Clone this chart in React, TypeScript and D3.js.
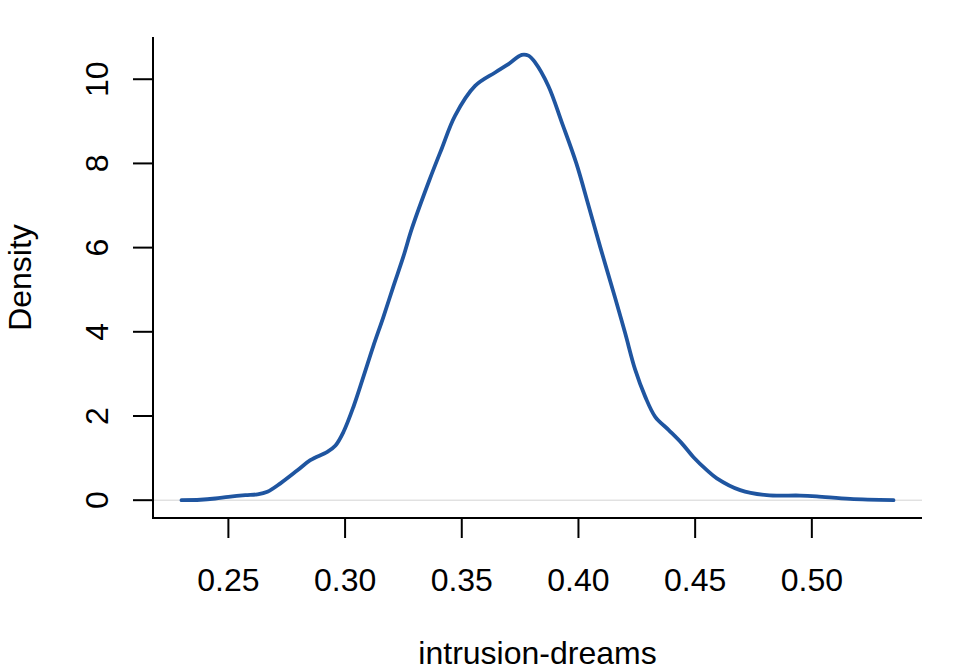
import React, { useEffect, useRef } from "react";
import * as d3 from "d3";

const xValues = [
  0.2299, 0.238, 0.2444, 0.25, 0.2573, 0.2624, 0.2667, 0.2723, 0.2796, 0.2851,
  0.2924, 0.2959, 0.2993, 0.3036, 0.3079, 0.3121, 0.3164, 0.3207, 0.325, 0.3286,
  0.3361, 0.3414, 0.3471, 0.3557, 0.3643, 0.37, 0.3757, 0.3786, 0.3814, 0.3871,
  0.3929, 0.3991, 0.4043, 0.4094, 0.4157, 0.42, 0.4243, 0.4286, 0.4329, 0.4386,
  0.4443, 0.4493, 0.4549, 0.4593, 0.4693, 0.4807, 0.495, 0.5021, 0.5164, 0.535,
];
const densityValues = [
  0.0, 0.01, 0.04, 0.08, 0.12, 0.14, 0.2, 0.4, 0.71, 0.95,
  1.15, 1.3, 1.62, 2.22, 2.94, 3.66, 4.35, 5.08, 5.79, 6.45,
  7.6, 8.35, 9.13, 9.84, 10.16, 10.36, 10.58, 10.56, 10.4, 9.84,
  8.97, 8.0, 7.0, 6.0, 4.81, 3.97, 3.1, 2.46, 1.98, 1.67,
  1.35, 1.02, 0.72, 0.52, 0.24, 0.12, 0.11, 0.09, 0.03, 0.0,
];
const xTicks = [0.25, 0.3, 0.35, 0.4, 0.45, 0.5];
const yTicks = [0, 2, 4, 6, 8, 10];
const xLabel = "intrusion-dreams";
const yLabel = "Density";

const W = 960;
const H = 672;
const left = 153;
const right = 922;
const top = 37;
const bottom = 518;
const FONT = "'Liberation Sans', Arial, Helvetica, sans-serif";
const FS = 32;

export default function App() {
  const ref = useRef<SVGSVGElement | null>(null);

  useEffect(() => {
    document.body.style.margin = "0";
    const svg = d3.select(ref.current);
    svg.selectAll("*").remove();

    const xMin = d3.min(xValues)!;
    const xMax = d3.max(xValues)!;
    const xPad = (xMax - xMin) * 0.04;
    const yMax = d3.max(densityValues)!;
    const yPad = yMax * 0.04;

    const x = d3.scaleLinear().domain([xMin - xPad, xMax + xPad]).range([left, right]);
    const y = d3.scaleLinear().domain([-yPad, yMax + yPad]).range([bottom, top]);

    // zero reference line
    svg.append("line")
      .attr("x1", left).attr("x2", right)
      .attr("y1", y(0)).attr("y2", y(0))
      .attr("stroke", "#d3d3d3").attr("stroke-width", 1);

    // density curve
    const pts: [number, number][] = xValues.map((v, i) => [v, densityValues[i]]);
    const line = d3.line<[number, number]>()
      .x((d) => x(d[0]))
      .y((d) => y(d[1]))
      .curve(d3.curveCatmullRom.alpha(0.5));
    svg.append("path")
      .attr("d", line(pts)!)
      .attr("fill", "none")
      .attr("stroke", "#1F55A0")
      .attr("stroke-width", 3.8)
      .attr("stroke-linejoin", "round")
      .attr("stroke-linecap", "round");

    // L box
    svg.append("path")
      .attr("d", `M${left},${top}V${bottom}H${right}`)
      .attr("fill", "none")
      .attr("stroke", "#000")
      .attr("stroke-width", 2);

    // x ticks
    const xg = svg.append("g");
    xTicks.forEach((t) => {
      xg.append("line")
        .attr("x1", x(t)).attr("x2", x(t))
        .attr("y1", bottom).attr("y2", bottom + 20)
        .attr("stroke", "#000").attr("stroke-width", 2);
      xg.append("text")
        .attr("x", x(t)).attr("y", 591)
        .attr("text-anchor", "middle")
        .attr("font-family", FONT).attr("font-size", FS)
        .attr("fill", "#000")
        .text(d3.format(".2f")(t));
    });

    // y ticks
    const yg = svg.append("g");
    yTicks.forEach((t) => {
      yg.append("line")
        .attr("x1", left).attr("x2", left - 20)
        .attr("y1", y(t)).attr("y2", y(t))
        .attr("stroke", "#000").attr("stroke-width", 2);
      yg.append("text")
        .attr("transform", `translate(108,${y(t)}) rotate(-90)`)
        .attr("text-anchor", "middle")
        .attr("font-family", FONT).attr("font-size", FS)
        .attr("fill", "#000")
        .text(String(t));
    });

    // axis titles
    svg.append("text")
      .attr("x", (left + right) / 2).attr("y", 664)
      .attr("text-anchor", "middle")
      .attr("font-family", FONT).attr("font-size", FS)
      .attr("fill", "#000")
      .text(xLabel);
    svg.append("text")
      .attr("transform", `translate(31,${(top + bottom) / 2}) rotate(-90)`)
      .attr("text-anchor", "middle")
      .attr("font-family", FONT).attr("font-size", FS)
      .attr("fill", "#000")
      .text(yLabel);
  }, []);

  return (
    <svg
      ref={ref}
      width={W}
      height={H}
      style={{ display: "block", position: "absolute", left: 0, top: 0, background: "#fff" }}
    />
  );
}
